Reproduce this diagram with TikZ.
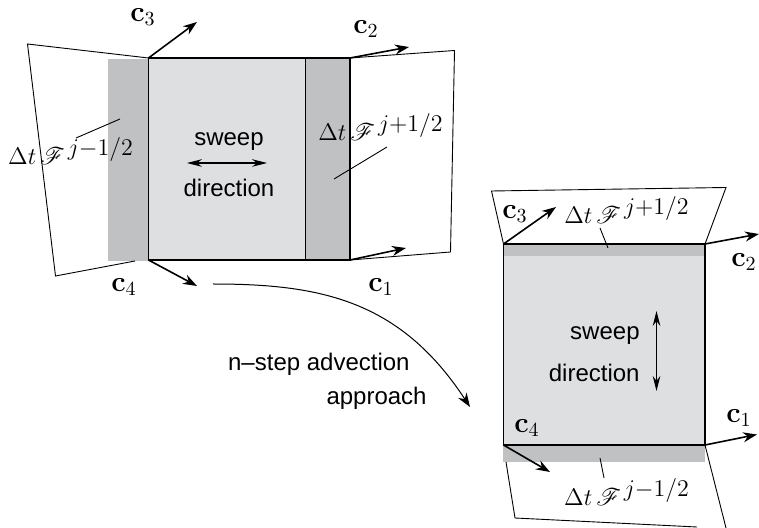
\documentclass[tikz,border=0pt]{standalone}
\usepackage{amsmath,amssymb}
\usepackage{mathrsfs}
\usepackage[no-math]{fontspec}
\setmainfont{Liberation Sans}
\usepackage{tikz}
\usetikzlibrary{arrows.meta, positioning, calc}
\definecolor{cell1}{RGB}{221,223,225}
\definecolor{band1}{RGB}{192,193,195}
\newcommand{\fluxup}{$\Delta t\,\mathscr{F}^{\,\textstyle j{+}1/2}$}
\newcommand{\fluxdown}{$\Delta t\,\mathscr{F}^{\,\textstyle j{-}1/2}$}

\begin{document}
\begin{tikzpicture}[
    x=0.5pt, y=-0.5pt,
    every node/.style={inner sep=0pt, anchor=center, font=\fontsize{12}{14}\selectfont},
    myarrow/.style={-{Stealth[length=7pt,width=5pt]}, line width=0.8pt, black},
    sweeparrow/.style={{Stealth[length=7.5pt,width=3.8pt]}-{Stealth[length=7.5pt,width=3.8pt]}, line width=0.6pt, black},
    thinline/.style={line width=0.45pt, black},
    cellline/.style={line width=0.8pt, black},
    veclabel/.style={font=\fontsize{14}{14}\selectfont},
    fluxlabel/.style={font=\fontsize{11.8}{14}\selectfont}
]
\useasboundingbox (0,0) rectangle (759,528);

% Fills of both cells
\fill[cell1] (148.5,58) rectangle (350,260);
\fill[band1] (108,59) rectangle (148.5,261);
\fill[band1] (305.5,58) rectangle (350,260);
\fill[cell1] (503.5,244) rectangle (705,445);
\fill[band1] (503.5,244) rectangle (705,256);
\fill[band1] (503,445) rectangle (705,462);

% Corners of the cells
\coordinate (la) at (148.5,58);
\coordinate (lb) at (350,58);
\coordinate (lc) at (350,260);
\coordinate (ld) at (148.5,260);
\coordinate (lm) at (305.5,58);
\coordinate (ln) at (305.5,260);
\coordinate (ra) at (503.5,244);
\coordinate (rb) at (705,244);
\coordinate (rc) at (705,445);
\coordinate (rd) at (503.5,445);

% Swept regions
\coordinate (lw1) at (27.5,44);
\coordinate (lw2) at (55.5,276);
\coordinate (lw3) at (135,261);
\coordinate (le1) at (454.5,50.5);
\coordinate (le2) at (450.5,252);
\coordinate (rn1) at (491.5,191);
\coordinate (rn2) at (726,187.5);
\coordinate (rs1) at (506,462);
\coordinate (rs2) at (515,518);
\coordinate (rs3) at (697,527);
\coordinate (rs4) at (726,528);
\draw[thinline] (la) -- (lw1) -- (lw2) -- (lw3);
\draw[thinline] (lb) -- (le1) -- (le2) -- (lc);
\draw[thinline] (ra) -- (rn1) -- (rn2) -- (rb);
\draw[thinline] (rs1) -- (rs2) -- (rs3);
\draw[thinline] (rc) -- (rs4);

% Cell outlines
\draw[cellline] (la) -- (lb) -- (lc) -- (ld) -- cycle;
\draw[thinline] (lm) -- (ln);
\draw[cellline] (ra) -- (rb) -- (rc) -- (rd) -- cycle;

% Corner velocities
\coordinate (lv3) at (197,22);
\coordinate (lv2) at (409,47);
\coordinate (lv1) at (406,248);
\coordinate (lv4) at (197,286);
\coordinate (rv3) at (556,207);
\coordinate (rv2) at (759,234);
\coordinate (rv1) at (757,434.5);
\coordinate (rv4) at (550,472);
\draw[myarrow] (la) -- (lv3);
\draw[myarrow] (lb) -- (lv2);
\draw[myarrow] (lc) -- (lv1);
\draw[myarrow] (ld) -- (lv4);
\draw[myarrow] (ra) -- (rv3);
\draw[myarrow] (rb) -- (rv2);
\draw[myarrow] (rc) -- (rv1);
\draw[myarrow] (rd) -- (rv4);

\node[veclabel,name=lc3] at(143,17) {$\mathbf{c}_3$};
\node[veclabel,name=lc2] at(366,29) {$\mathbf{c}_2$};
\node[veclabel,name=lc1] at(381,287) {$\mathbf{c}_1$};
\node[veclabel,name=lc4] at(124,287) {$\mathbf{c}_4$};
\node[veclabel,name=rc3] at(515,214) {$\mathbf{c}_3$};
\node[veclabel,name=rc2] at(744,262) {$\mathbf{c}_2$};
\node[veclabel,name=rc1] at(739,418) {$\mathbf{c}_1$};
\node[veclabel,name=rc4] at(527,428) {$\mathbf{c}_4$};

% Sweep directions
\node[name=lsweep] at(229,142) {sweep};
\node[name=ldir] at(229,188) {direction};
\coordinate (lsa) at (187,163);
\coordinate (lsb) at (267,163);
\draw[sweeparrow] (lsa) -- (lsb);
\node[anchor=east,name=rsweep] at(640,336) {sweep};
\node[anchor=east,name=rdir] at(640,373) {direction};
\coordinate (rsa) at (656.5,311);
\coordinate (rsb) at (656.5,391);
\draw[sweeparrow] (rsa) -- (rsb);

% Flux labels with leaders
\node[fluxlabel,name=fluxlw] at(71,151) {\fluxdown};
\node[fluxlabel,name=fluxle] at(381,127) {\fluxup};
\node[fluxlabel,name=fluxrn] at(627,210) {\fluxup};
\node[fluxlabel,name=fluxrs] at(627,492) {\fluxdown};
\coordinate (ll1) at (76,138);
\coordinate (ll2) at (120,119);
\coordinate (ll3) at (387,147);
\coordinate (ll4) at (334,179);
\coordinate (ll5) at (600,228);
\coordinate (ll6) at (608,248);
\coordinate (ll7) at (600,458);
\coordinate (ll8) at (604,478);
\draw[thinline] (ll1) -- (ll2);
\draw[thinline] (ll3) -- (ll4);
\draw[thinline] (ll5) -- (ll6);
\draw[thinline] (ll7) -- (ll8);

% Mapping between the two sweeps
\coordinate (mapa) at (213,284);
\coordinate (mapb) at (470,407);
\draw[myarrow, line width=0.5pt] (mapa) .. controls (320,284) and (400,300) .. (mapb);
\node[anchor=east,name=steplabel] at(410,364) {n--step advection};
\node[anchor=east,name=applabel] at(427,398) {approach};

\end{tikzpicture}
\end{document}
